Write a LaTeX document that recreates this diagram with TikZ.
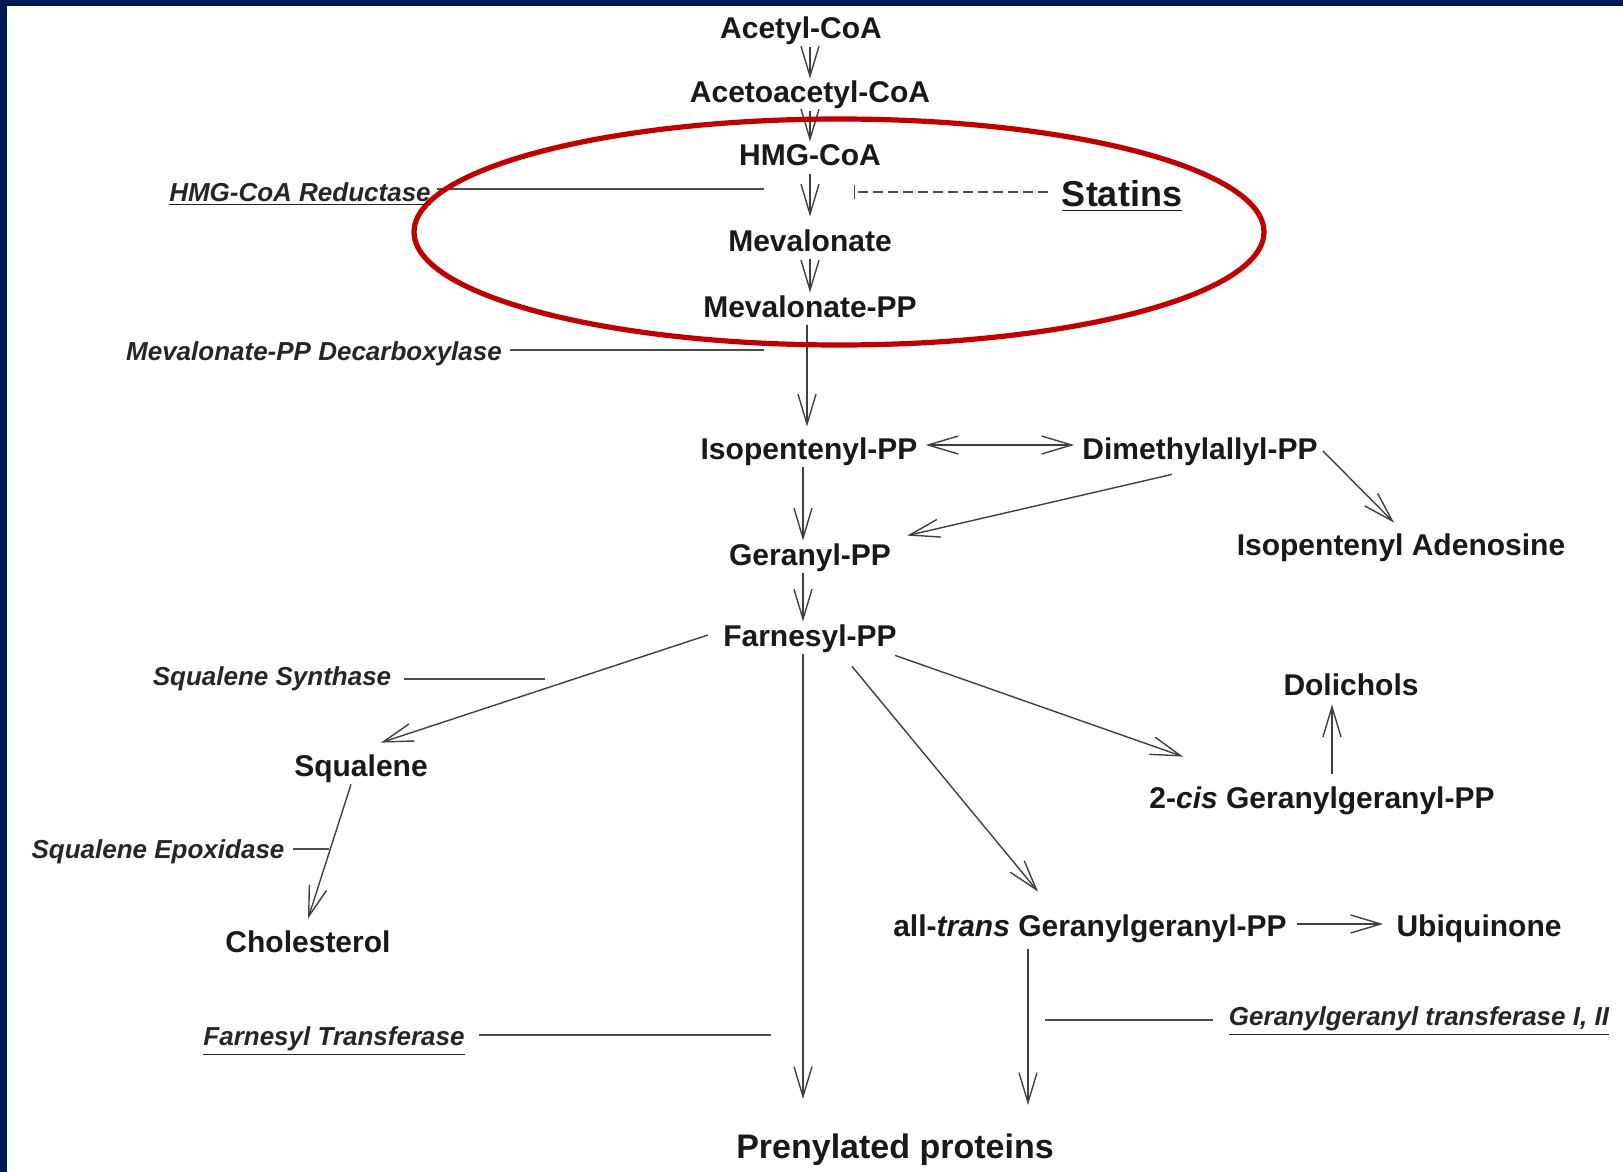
\documentclass[tikz,border=0pt]{standalone}
\usepackage{fontspec}
\setmainfont{Liberation Sans}
\usetikzlibrary{arrows.meta}
\definecolor{frame}{RGB}{0,27,84}
\definecolor{ring}{RGB}{192,0,0}

\begin{document}
\begin{tikzpicture}[x=0.5pt,y=-0.5pt,
  chem/.style={font=\fontsize{15}{18}\selectfont\bfseries,inner sep=1pt,text height=11pt,text depth=3pt,text=black!90},
  enz/.style={font=\fontsize{13}{16}\selectfont\bfseries\itshape,inner sep=1pt,text=black!85},
  arr/.style={draw=black!75,line width=0.7pt,-{Straight Barb[length=15pt,width=9pt]}},
  dbl/.style={draw=black!75,line width=0.7pt,{Straight Barb[length=15pt,width=9pt]}-{Straight Barb[length=15pt,width=9pt]}},
  link/.style={draw=black!70,line width=0.9pt}]
\useasboundingbox (0,0) rectangle (1623,1172);
\fill[white] (0,0) rectangle (1623,1172);
\fill[frame] (0,0) rectangle (7,1172);
\fill[frame] (0,0) rectangle (1623,6);

\node[chem] (acetyl) at (801,31) {Acetyl-CoA};
\node[chem] (acetoacetyl) at (810,95) {Acetoacetyl-CoA};
\node[chem] (hmg) at (810,158) {HMG-CoA};
\node[chem] (mev) at (810,243) {Mevalonate};
\node[chem] (mevpp) at (810,309) {Mevalonate-PP};
\node[chem] (ipp) at (809,451) {Isopentenyl-PP};
\node[chem] (dmapp) at (1200,451) {Dimethylallyl-PP};
\node[chem] (adenosine) at (1401,547) {Isopentenyl Adenosine};
\node[chem] (geranyl) at (810,557) {Geranyl-PP};
\node[chem] (farnesyl) at (810,638) {Farnesyl-PP};
\node[chem] (squalene) at (361,768) {Squalene};
\node[chem] (cholesterol) at (308,944) {Cholesterol};
\node[chem] (dolichols) at (1351,687) {Dolichols};
\node[chem] (cisgg) at (1322,800) {2-\textit{cis} Geranylgeranyl-PP};
\node[chem] (transgg) at (1090,928) {all-\textit{trans} Geranylgeranyl-PP};
\node[chem] (ubiquinone) at (1479,928) {Ubiquinone};
\node[chem,font=\fontsize{17}{20}\selectfont\bfseries,text height=12.5pt] (prenylated) at (895,1149) {Prenylated proteins};
\node[font=\fontsize{18}{22}\selectfont\bfseries,inner sep=1pt,text=black!90] (statins) at (1122,196) {\underline{Statins}};

\node[enz] (reductase) at (300,194) {\underline{HMG-CoA Reductase}};
\node[enz] (decarb) at (314,354) {Mevalonate-PP Decarboxylase};
\node[enz] (synthase) at (272,679) {Squalene Synthase};
\node[enz] (epoxidase) at (158,852) {Squalene Epoxidase};
\node[enz] (ftrans) at (334,1041) {\underline{Farnesyl Transferase}};
\node[enz] (ggtrans) at (1419,1021) {\underline{Geranylgeranyl transferase I, II}};

\coordinate (hmgmark) at (764,189);
\coordinate (statbar) at (854,192);
\coordinate (decmark) at (764,350);
\coordinate (synmark) at (545,679);
\coordinate (epomark) at (329,849);
\coordinate (ftmark) at (771,1035);
\coordinate (ggtmark) at (1045,1020);

\draw[arr] (acetyl.south -| acetoacetyl) -- (acetoacetyl.north);
\draw[arr] (acetoacetyl.south) -- (hmg.north);
\draw[arr,shorten >=5pt] (hmg.south) -- (mev.north);
\draw[arr] (mev.south) -- (mevpp.north);
\draw[arr,shorten >=4pt] ([shift={(-3,0)}]mevpp.south) -- ([shift={(-2,0)}]ipp.north);
\draw[dbl,shorten <=3pt,shorten >=3pt] ([shift={(0,-6)}]ipp.east) -- ([shift={(0,-6)}]dmapp.west);
\draw[arr] ([shift={(-6,0)}]ipp.south) -- ([shift={(-7,0)}]geranyl.north);
\draw[arr] ([shift={(-28,7)}]dmapp.south) -- ([shift={(14,-5)}]geranyl.north east);
\draw[arr] ([shift={(3,0)}]dmapp.east) -- ([shift={(-7,-8)}]adenosine.north);
\draw[arr] ([shift={(-7,0)}]geranyl.south) -- ([shift={(-7,0)}]farnesyl.north);
\draw[arr] ([shift={(-13,-3)}]farnesyl.west) -- ([shift={(20,-9)}]squalene.north);
\draw[arr,shorten >=16pt] ([shift={(-7,0)}]farnesyl.south) -- ([shift={(-7,0)}]farnesyl.south |- prenylated.north);
\draw[arr] ([shift={(-4,1)}]farnesyl.south east) -- ([shift={(36,-27)}]cisgg.north west);
\draw[arr] ([shift={(42,12)}]farnesyl.south) -- ([shift={(-52,-20)}]transgg.north);
\draw[arr] ([shift={(10,-10)}]cisgg.north) -- ([shift={(-19,1)}]dolichols.south);
\draw[arr] ([shift={(8,-4)}]transgg.east) -- ([shift={(-11,-4)}]ubiquinone.west);
\draw[arr,shorten >=13pt] ([shift={(-62,5)}]transgg.south) -- ([shift={(-62,0)}]transgg.south |- prenylated.north);
\draw[arr] ([shift={(-10,0)}]squalene.south) -- ([shift={(0,-9)}]cholesterol.north);

\draw[link,shorten <=2pt] (reductase.east |- hmgmark) -- (hmgmark);
\draw[link,line width=0.7pt,dash pattern=on 5pt off 2.5pt,-{Bar[width=7pt]},shorten <=6pt] (statins.west |- statbar) -- (statbar);
\draw[link,shorten <=3pt] (decarb.east |- decmark) -- (decmark);
\draw[link,shorten <=5pt] (synthase.east |- synmark) -- (synmark);
\draw[link,shorten <=3pt] (epoxidase.east |- epomark) -- (epomark);
\draw[link,shorten <=6pt] (ftrans.east |- ftmark) -- (ftmark);
\draw[link,shorten <=7pt] (ggtrans.west |- ggtmark) -- (ggtmark);

\draw[ring,line width=2.6pt] (839,232) ellipse [x radius=425,y radius=113];
\end{tikzpicture}
\end{document}
